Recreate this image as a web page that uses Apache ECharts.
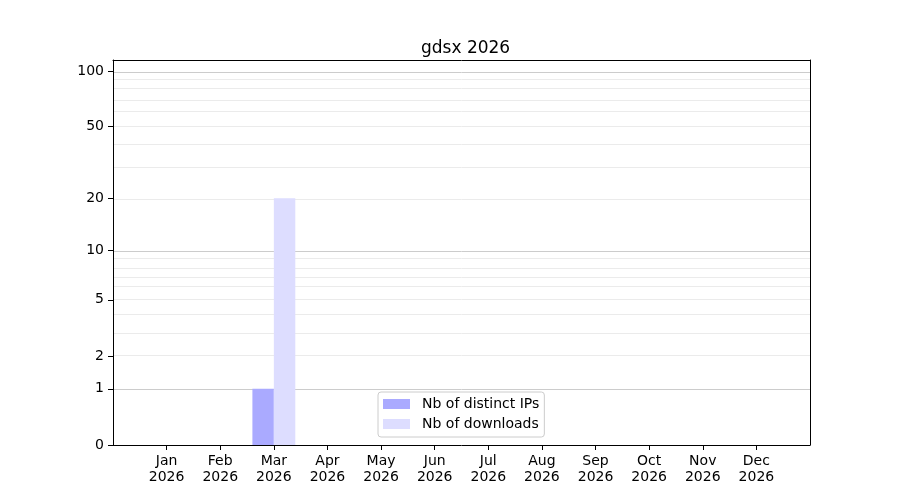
<!DOCTYPE html>
<html>
<head>
<meta charset="utf-8">
<script src="https://cdn.jsdelivr.net/npm/echarts@6/dist/echarts.min.js"></script>
<style>
  html, body { margin: 0; padding: 0; background: #fff; }
  #chart { width: 900px; height: 500px; }
</style>
</head>
<body>
<div id="chart"></div>
<script>
// données
var months = ['Jan', 'Feb', 'Mar', 'Apr', 'May', 'Jun', 'Jul', 'Aug', 'Sep', 'Oct', 'Nov', 'Dec'];
var year = '2026';
var distinctIPs = [0, 0, 1, 0, 0, 0, 0, 0, 0, 0, 0, 0];
var downloads = [0, 0, 20, 0, 0, 0, 0, 0, 0, 0, 0, 0];
var labelTicks = [0, 1, 2, 5, 10, 20, 50, 100];
var majorGrid = [1, 10, 100];
var minorGrid = [2, 3, 4, 5, 6, 7, 8, 9, 20, 30, 40, 50, 60, 70, 80, 90];

// échelle log(1+y), comme sur l'original
var tf = function (v) { return Math.log10(1 + v) };
var untf = function (t) { return Math.round(Math.pow(10, t) - 1) };

// une catégorie vide de chaque côté pour la marge
var cats = [''].concat(months.map(function (m) { return m + '\n' + year })).concat(['']);
var pad = function (arr) { return [null].concat(arr.map(tf)).concat([null]) };

var font = 'DejaVu Sans';
var yMax = 2.064;

var myChart = echarts.init(document.getElementById('chart'));

// cadre noir : axes du haut et de droite sans graduations
var frameAxis = {
    axisLine: { show: true, onZero: false, lineStyle: { color: '#000', width: 1 } },
    axisTick: { show: false },
    axisLabel: { show: false },
    splitLine: { show: false },
    z: 10
};

var option = {
    animation: false,
    backgroundColor: '#fff',
    textStyle: { fontFamily: font },
    title: {
        text: 'gdsx ' + year,
        left: 416,
        top: 35,
        textStyle: { fontFamily: font, fontSize: 17, fontWeight: 'normal', color: '#000' }
    },
    grid: { left: 113, right: 90, top: 60, bottom: 55 },
    legend: {
        orient: 'vertical',
        left: 378,
        top: 392,
        icon: 'rect',
        itemWidth: 27,
        itemHeight: 10,
        itemGap: 6,
        padding: [5, 5, 6, 5],
        backgroundColor: '#fff',
        borderColor: '#cccccc',
        borderWidth: 1,
        borderRadius: 3,
        textStyle: { fontFamily: font, fontSize: 14, color: '#000', padding: [0, 0, 0, 7] },
        data: ['Nb of distinct IPs', 'Nb of downloads']
    },
    xAxis: [{
        type: 'category',
        data: cats,
        boundaryGap: false,
        z: 10,
        axisLine: { lineStyle: { color: '#000', width: 1 } },
        axisTick: {
            length: 5,
            lineStyle: { color: '#000' },
            interval: function (i) { return i > 0 && i < cats.length - 1 }
        },
        axisLabel: {
            interval: 0,
            margin: 8,
            color: '#000',
            fontFamily: font,
            fontSize: 14,
            lineHeight: 16
        },
        splitLine: { show: false }
    }, Object.assign({ type: 'category', data: cats, boundaryGap: false, position: 'top' }, frameAxis)],
    yAxis: [{
        type: 'value',
        min: 0,
        max: yMax,
        z: 10,
        axisLine: { show: true, lineStyle: { color: '#000', width: 1 } },
        axisTick: {
            show: true,
            length: 5,
            lineStyle: { color: '#000' },
            customValues: labelTicks.map(tf)
        },
        axisLabel: {
            margin: 9,
            color: '#000',
            fontFamily: font,
            fontSize: 14,
            customValues: labelTicks.map(tf),
            formatter: function (v) { return String(untf(v)) }
        },
        splitLine: { show: false }
    }, Object.assign({ type: 'value', min: 0, max: yMax, position: 'right' }, frameAxis)],
    series: [
        {
            name: 'Nb of distinct IPs',
            type: 'bar',
            data: pad(distinctIPs),
            barWidth: '40%',
            barGap: '0%',
            itemStyle: { color: '#aaaaff' },
            z: 3,
            markLine: {
                silent: true,
                symbol: 'none',
                label: { show: false },
                animation: false,
                z: 1,
                data: minorGrid.map(function (v) {
                    return { yAxis: tf(v), lineStyle: { color: '#ebebeb', width: 1, type: 'solid' } }
                }).concat(majorGrid.map(function (v) {
                    return { yAxis: tf(v), lineStyle: { color: '#cccccc', width: 1, type: 'solid' } }
                }))
            }
        },
        {
            name: 'Nb of downloads',
            type: 'bar',
            data: pad(downloads),
            barWidth: '40%',
            barGap: '0%',
            itemStyle: { color: '#ddddff' },
            z: 3
        }
    ]
};

myChart.setOption(option);
</script>
</body>
</html>
